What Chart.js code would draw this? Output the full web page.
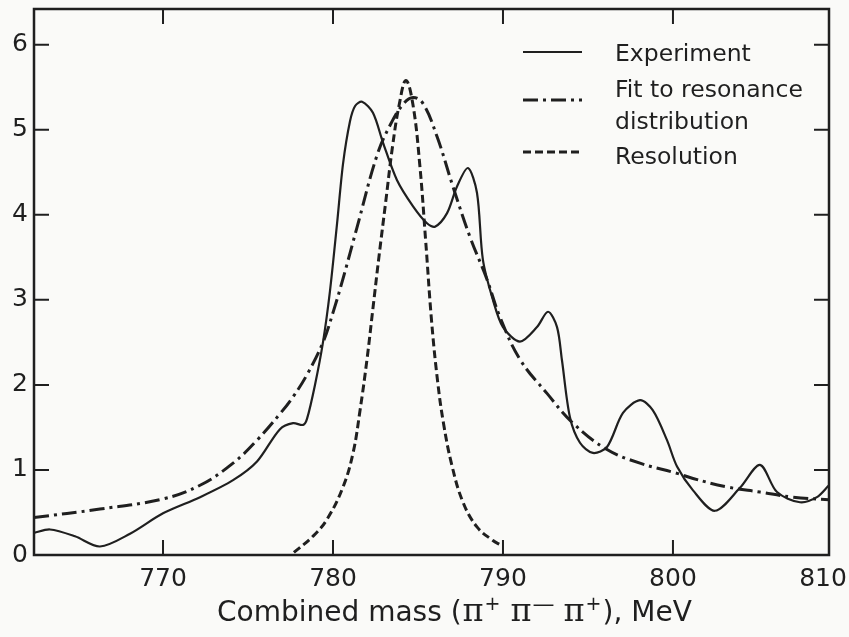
<!DOCTYPE html>
<html>
<head>
<meta charset="utf-8">
<script src="https://cdn.jsdelivr.net/npm/chart.js@4.4.1/dist/chart.umd.min.js"></script>
<style>
  html, body { margin: 0; padding: 0; background: #fafaf8; }
  #wrap { width: 849px; height: 637px; }
</style>
</head>
<body>
<div id="wrap"><canvas id="chart" width="849" height="637"></canvas></div>
<script>
// Experiment (solid line), combined mass in MeV vs relative intensity
const expMass = [762.41, 763.35, 764.82, 766.29, 768.06, 770.0, 772.18, 774.12, 775.53, 776.88,
    777.65, 778.24, 778.47, 778.94, 779.41, 779.82, 780.24, 780.59, 781.0, 781.3,
    781.71, 782.35, 782.94, 783.76, 784.71, 785.53, 786.0, 786.71, 787.29, 787.94,
    788.47, 788.82, 789.41, 790.0, 791.0, 792.0, 792.65, 793.18, 793.47, 793.94,
    794.53, 795.29, 796.12, 797.06, 798.06, 798.82, 799.65, 800.24, 801.18, 802.47,
    803.94, 805.12, 806.12, 807.47, 808.47, 809.18];
const expValue = [0.26, 0.30, 0.22, 0.10, 0.25, 0.49, 0.68, 0.88, 1.10, 1.48,
    1.55, 1.53, 1.60, 2.00, 2.50, 3.10, 3.90, 4.60, 5.10, 5.28,
    5.33, 5.20, 4.85, 4.41, 4.10, 3.90, 3.86, 4.02, 4.33, 4.55,
    4.26, 3.47, 3.00, 2.68, 2.51, 2.68, 2.86, 2.68, 2.29, 1.62,
    1.32, 1.20, 1.27, 1.67, 1.82, 1.70, 1.35, 1.04, 0.76, 0.52,
    0.79, 1.06, 0.74, 0.62, 0.68, 0.82];

// Fit to resonance distribution (dash-dot)
const fitMass = [762.41, 766.29, 770.0, 772.18, 774.12, 775.53, 776.88, 777.65, 778.47, 779.41,
    780.0, 780.59, 781.41, 782.59, 783.35, 784.12, 784.71, 785.29, 786.12, 787.06,
    788.06, 789.06, 789.82, 791.0, 792.59, 794.12, 796.12, 798.06, 800.24, 801.18,
    803.18, 805.12, 807.06, 809.18];
const fitValue = [0.44, 0.54, 0.66, 0.82, 1.08, 1.35, 1.66, 1.86, 2.12, 2.50,
    2.85, 3.25, 3.85, 4.70, 5.05, 5.30, 5.38, 5.31, 4.92, 4.33,
    3.74, 3.24, 2.80, 2.30, 1.90, 1.55, 1.24, 1.08, 0.96, 0.90,
    0.80, 0.74, 0.68, 0.65];

// Resolution (dashed)
const resMass = [777.7, 778.82, 779.65, 780.59, 781.18, 781.59, 782.0, 782.35, 782.7, 783.1,
    783.5, 783.9, 784.29, 784.7, 785.1, 785.45, 785.8, 786.15, 786.5, 787.0,
    787.65, 788.47, 789.41, 789.85];
const resValue = [0.03, 0.22, 0.42, 0.80, 1.20, 1.70, 2.30, 2.90, 3.50, 4.15,
    4.80, 5.30, 5.58, 5.30, 4.60, 3.70, 2.75, 2.05, 1.55, 1.05,
    0.62, 0.33, 0.17, 0.12];

const xTicks = [770, 780, 790, 800, 810];
const yTicks = [0, 1, 2, 3, 4, 5, 6];
const xMin = 762.41, xMax = 809.18;
const yMin = 0, yMax = 6.42;

const ink = '#1f1f1f';
const sans = '"DejaVu Sans", Verdana, sans-serif';
const serif = '"DejaVu Serif", "Liberation Serif", serif';
const dashDot = [15, 5, 3, 5];
const dashed = [8, 4];

const toPoints = (xs, ys) => xs.map((x, i) => ({ x: x, y: ys[i] }));

// legend: sample line (y) and text rows (baseline)
const legendLines = [
    { dash: [], width: 2, y: 52 },
    { dash: dashDot, width: 3, y: 100 },
    { dash: dashed, width: 3, y: 152 }
];
const legendRows = [['Experiment', 61], ['Fit to resonance', 97], ['distribution', 129], ['Resolution', 164]];

// axis title pieces: text, font, raise, gap after
const titleParts = [
    ['Combined mass (', '28px ' + sans, 0, 1],
    ['\u03c0', '32px ' + serif, 0, 1],
    ['+', '19px ' + sans, -11, 10],
    ['\u03c0', '32px ' + serif, 0, 1],
    ['\u2014', '22px ' + sans, -10, 9],
    ['\u03c0', '32px ' + serif, 0, 1],
    ['+', '19px ' + sans, -11, 1],
    ['), MeV', '28px ' + sans, 0, 0]
];

const framePlugin = {
    id: 'frame',
    beforeDraw(chart) {
        const ctx = chart.ctx;
        ctx.save();
        ctx.fillStyle = '#fafaf8';
        ctx.fillRect(0, 0, chart.width, chart.height);
        ctx.restore();
    },
    afterDatasetsDraw(chart) {
        const { ctx, chartArea: a, scales } = chart;
        const len = 15;
        ctx.save();
        ctx.strokeStyle = ink;
        ctx.lineWidth = 2.5;
        ctx.setLineDash([]);
        ctx.strokeRect(a.left, a.top, a.right - a.left, a.bottom - a.top);

        // inward ticks on all four sides (none at the corners)
        ctx.lineWidth = 2;
        ctx.beginPath();
        scales.x.ticks.forEach((t, i) => {
            if (xTicks[i] > scales.x.max) return;
            const px = scales.x.getPixelForValue(t.value);
            ctx.moveTo(px, a.bottom); ctx.lineTo(px, a.bottom - len);
            ctx.moveTo(px, a.top); ctx.lineTo(px, a.top + len);
        });
        scales.y.ticks.forEach(t => {
            if (t.value <= scales.y.min) return;
            const py = scales.y.getPixelForValue(t.value);
            ctx.moveTo(a.left, py); ctx.lineTo(a.left + len, py);
            ctx.moveTo(a.right, py); ctx.lineTo(a.right - len, py);
        });
        ctx.stroke();

        // legend
        legendLines.forEach(l => {
            ctx.lineWidth = l.width;
            ctx.setLineDash(l.dash);
            ctx.beginPath();
            ctx.moveTo(523, l.y);
            ctx.lineTo(582, l.y);
            ctx.stroke();
        });
        ctx.setLineDash([]);
        ctx.fillStyle = ink;
        ctx.font = '23.5px ' + sans;
        ctx.textBaseline = 'alphabetic';
        legendRows.forEach(r => ctx.fillText(r[0], 615, r[1]));

        // x axis title with superscripts
        let x = 217;
        const base = 621;
        titleParts.forEach(p => {
            ctx.font = p[1];
            ctx.fillText(p[0], x, base + p[2]);
            x += ctx.measureText(p[0]).width + p[3];
        });
        ctx.restore();
    }
};

new Chart(document.getElementById('chart'), {
    type: 'line',
    data: {
        datasets: [
            {
                label: 'Experiment',
                data: toPoints(expMass, expValue),
                borderColor: ink,
                borderWidth: 2.2,
                tension: 0.3,
                pointRadius: 0
            },
            {
                label: 'Fit to resonance distribution',
                data: toPoints(fitMass, fitValue),
                borderColor: ink,
                borderWidth: 3,
                borderDash: dashDot,
                tension: 0.4,
                pointRadius: 0
            },
            {
                label: 'Resolution',
                data: toPoints(resMass, resValue),
                borderColor: ink,
                borderWidth: 3,
                borderDash: dashed,
                tension: 0.4,
                pointRadius: 0
            }
        ]
    },
    options: {
        responsive: false,
        animation: false,
        layout: { padding: { top: 9, right: 20, left: 0, bottom: 0 } },
        plugins: {
            legend: { display: false },
            tooltip: { enabled: false }
        },
        scales: {
            x: {
                type: 'linear',
                min: xMin,
                max: xMax,
                // the 810 label sits at the right frame edge, pulled in so it fits
                afterBuildTicks: (scale) => {
                    scale.ticks = xTicks.map(v => ({ value: v > scale.max ? scale.max - 0.35 : v }));
                },
                afterFit: (scale) => {
                    scale.height = 82;
                    scale.paddingLeft = 0;
                    scale.paddingRight = 0;
                },
                grid: { display: false, drawTicks: false },
                border: { display: false },
                ticks: {
                    padding: 9,
                    color: ink,
                    font: { family: sans, size: 25 },
                    maxRotation: 0,
                    callback: (value, i) => String(xTicks[i])
                }
            },
            y: {
                min: yMin,
                max: yMax,
                afterBuildTicks: (scale) => {
                    scale.ticks = yTicks.map(v => ({ value: v }));
                },
                afterFit: (scale) => {
                    scale.width = 34;
                    scale.paddingTop = 0;
                    scale.paddingBottom = 0;
                },
                grid: { display: false, drawTicks: false },
                border: { display: false },
                ticks: {
                    padding: 6,
                    color: ink,
                    font: { family: sans, size: 25 },
                    callback: (value) => String(value)
                }
            }
        }
    },
    plugins: [framePlugin]
});
</script>
</body>
</html>
